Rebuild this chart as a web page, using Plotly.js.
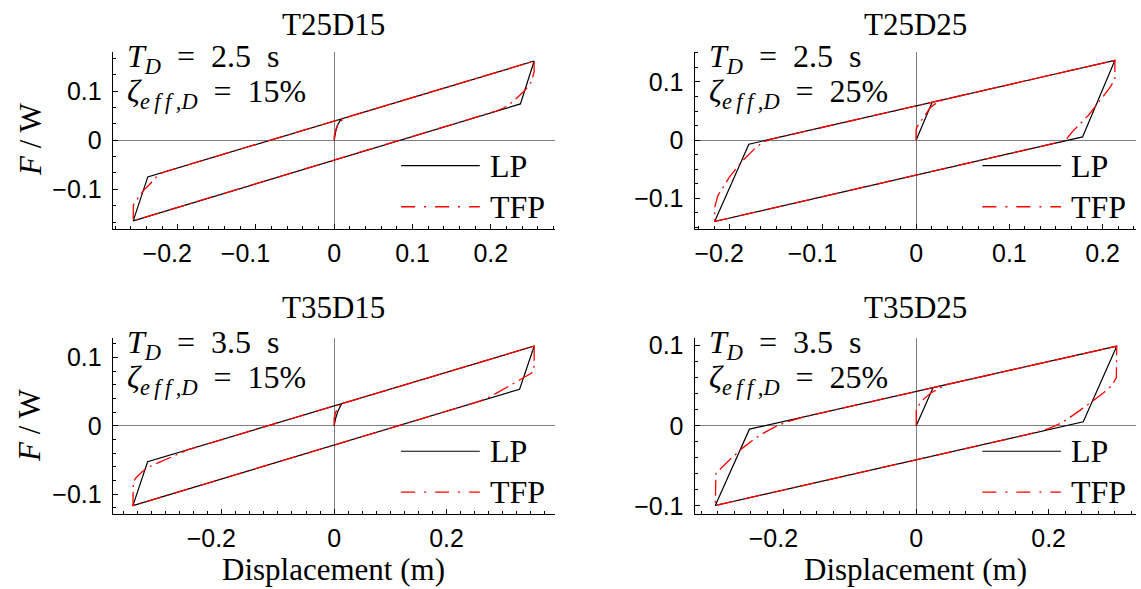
<!DOCTYPE html>
<html>
<head>
<meta charset="utf-8">
<script src="https://cdn.plot.ly/plotly-3.0.1.min.js"></script>
<style>html,body{margin:0;padding:0;background:#fff;}#chart{width:1141px;height:589px;}</style>
</head>
<body>
<div id="chart"></div>
<script>
// ---------- data ----------
const panelTitles = ['T25D15', 'T25D25', 'T35D15', 'T35D25'];
const periodLabels = ['2.5', '2.5', '3.5', '3.5'];
const dampingLabels = ['15%', '25%', '15%', '25%'];
const seriesNames = ['LP', 'TFP'];

// T25D15
const P1_LP_X = [0, 0.0015, 0.004, 0.0087, 0.2554, 0.2378, -0.2568, -0.2382, 0.2554];
const P1_LP_Y = [0, 0.015, 0.030, 0.0432, 0.161, 0.0738, -0.164, -0.0746, 0.161];
const P1_TFP_X = [0, 0, 0.002, 0.005, 0.010, 0.018, 0.2554, 0.2553, 0.2517, 0.2445, 0.236, 0.2262, 0.217, 0.207, -0.2568, -0.2566, -0.2497, -0.2433, -0.2369, -0.230, -0.2241, -0.215, 0.2554];
const P1_TFP_Y = [0, 0.008, 0.022, 0.033, 0.041, 0.0477, 0.161, 0.139, 0.1185, 0.103, 0.090, 0.076, 0.066, 0.0594, -0.164, -0.132, -0.115, -0.1016, -0.0915, -0.079, -0.0695, -0.0635, 0.161];

// T25D25
const P2_LP_X = [0, 0.0172, 0.2132, 0.1785, -0.2160, -0.1793, 0.2132];
const P2_LP_Y = [0, 0.0652, 0.1372, 0.0057, -0.1396, -0.0069, 0.1372];
const P2_TFP_X = [0, 0, 0.001, 0.010, 0.0155, 0.0225, 0.030, 0.2132, 0.2131, 0.207, 0.1987, 0.1851, 0.1675, 0.1617, 0.155, -0.2160, -0.2158, -0.2126, -0.2002, -0.187, -0.172, -0.1638, -0.156, 0.2132];
const P2_TFP_Y = [0, 0.018, 0.023, 0.043, 0.0565, 0.0646, 0.0699, 0.1372, 0.104, 0.0885, 0.0721, 0.0433, 0.0144, 0.0029, -0.0027, -0.1396, -0.115, -0.0952, -0.0635, -0.037, -0.0128, -0.003, 0.0016, 0.1372];

// T35D15
const P3_LP_X = [0, 0.0026, 0.0065, 0.0133, 0.356, 0.330, -0.358, -0.3319, 0.356];
const P3_LP_Y = [0, 0.0108, 0.021, 0.0324, 0.1168, 0.0536, -0.1168, -0.0526, 0.1168];
const P3_TFP_X = [0, 0, 0.002, 0.0046, 0.009, 0.015, 0.022, 0.356, 0.3558, 0.3555, 0.350, 0.3184, 0.299, 0.280, 0.265, 0.250, -0.358, -0.3578, -0.3573, -0.352, -0.3416, -0.3287, -0.2963, -0.275, -0.260, 0.356];
const P3_TFP_Y = [0, 0.010, 0.018, 0.0235, 0.029, 0.0326, 0.0345, 0.1168, 0.095, 0.0813, 0.0765, 0.0619, 0.052, 0.0436, 0.038, 0.0338, -0.1168, -0.095, -0.0813, -0.0755, -0.0671, -0.0598, -0.0476, -0.0395, -0.0349, 0.1168];

// T35D25
const P4_LP_X = [0, 0.0255, 0.3029, 0.2523, -0.3036, -0.2520, 0.3029];
const P4_LP_Y = [0, 0.0477, 0.0994, 0.0050, -0.0994, -0.0041, 0.0994];
const P4_TFP_X = [0, 0, 0.004, 0.012, 0.022, 0.034, 0.045, 0.3029, 0.3027, 0.3023, 0.295, 0.284, 0.262, 0.244, 0.229, 0.214, 0.200, 0.185, 0.170, -0.3036, -0.3034, -0.3026, -0.285, -0.263, -0.245, -0.230, -0.215, -0.200, -0.185, -0.170, 0.3029];
const P4_TFP_Y = [0, 0.020, 0.026, 0.034, 0.041, 0.0465, 0.0513, 0.0994, 0.075, 0.060, 0.050, 0.042, 0.028, 0.017, 0.0087, 0.0015, -0.0035, -0.0072, -0.0104, -0.0994, -0.075, -0.0592, -0.0447, -0.0281, -0.0165, -0.0087, -0.0020, 0.0035, 0.0075, 0.0112, 0.0994];

const xTickValsTop = [-0.2, -0.1, 0, 0.1, 0.2];
const xTickTextTop = ['\u22120.2', '\u22120.1', '0', '0.1', '0.2'];
const xTickValsBottom = [-0.2, 0, 0.2];
const xTickTextBottom = ['\u22120.2', '0', '0.2'];
const yTickVals = [-0.1, 0, 0.1];
const yTickText = ['\u22120.1', '0', '0.1'];

// ---------- styling ----------
const serif = 'Liberation Serif, Times New Roman, serif';
const sans = 'Liberation Sans, Arial, Helvetica, sans-serif';
const lpLine = {color: '#000000', width: 1.2};
const tfpLine = {color: '#ff0000', width: 1.3, dash: '16px,5px,2px,5px'};
// MATLAB-like placement: negative x labels sit slightly left of their tick
const pad = '\u00A0\u00A0\u00A0';
function padNeg(arr) { return arr.map(function (t) { return t.charAt(0) === '\u2212' ? t + pad : t; }); }

const lpX = [P1_LP_X, P2_LP_X, P3_LP_X, P4_LP_X];
const lpY = [P1_LP_Y, P2_LP_Y, P3_LP_Y, P4_LP_Y];
const tfpX = [P1_TFP_X, P2_TFP_X, P3_TFP_X, P4_TFP_X];
const tfpY = [P1_TFP_Y, P2_TFP_Y, P3_TFP_Y, P4_TFP_Y];

const traces = [];
for (let i = 0; i < 4; i++) {
  const xa = i === 0 ? 'x' : 'x' + (i + 1);
  const ya = i === 0 ? 'y' : 'y' + (i + 1);
  traces.push({x: lpX[i], y: lpY[i], xaxis: xa, yaxis: ya, type: 'scatter', mode: 'lines',
    name: seriesNames[0], line: lpLine, showlegend: false, hoverinfo: 'skip'});
  traces.push({x: tfpX[i], y: tfpY[i], xaxis: xa, yaxis: ya, type: 'scatter', mode: 'lines',
    name: seriesNames[1], line: tfpLine, showlegend: false, hoverinfo: 'skip'});
}

function axis(extra) {
  return Object.assign({
    showline: true, linecolor: '#000', linewidth: 1, mirror: false,
    ticks: 'inside', ticklen: 5, tickwidth: 1, tickcolor: '#000',
    showgrid: false, zeroline: true, zerolinecolor: '#808080', zerolinewidth: 1,
    tickfont: {family: sans, size: 25, color: '#000'},
    ticklabelstandoff: 2, tickmode: 'array', fixedrange: true
  }, extra);
}
function minor(dt) {
  return {ticks: 'inside', ticklen: 3, tickwidth: 1, tickcolor: '#000', dtick: dt, tick0: 0, showgrid: false};
}

const colL = [0.09877, 0.48642], colR = [0.60868, 0.99562];
const rowT = [0.6117, 0.91222], rowB = [0.12733, 0.42666];

const layout = {
  width: 1141, height: 589, margin: {l: 0, r: 0, t: 0, b: 0},
  paper_bgcolor: '#fff', plot_bgcolor: '#fff', showlegend: false,
  font: {family: sans, size: 24, color: '#000'},
  xaxis:  axis({domain: colL, anchor: 'y',  range: [-0.283, 0.282], tickvals: xTickValsTop, ticktext: padNeg(xTickTextTop), minor: minor(0.02)}),
  yaxis:  axis({domain: rowT, anchor: 'x',  range: [-0.18, 0.18], tickvals: yTickVals, ticktext: yTickText, ticklabelstandoff: 5, minor: minor(0.1 / 3)}),
  xaxis2: axis({domain: colR, anchor: 'y2', range: [-0.2376, 0.2358], tickvals: xTickValsTop, ticktext: padNeg(xTickTextTop), minor: minor(0.1 / 6)}),
  yaxis2: axis({domain: rowT, anchor: 'x2', range: [-0.152, 0.152], tickvals: yTickVals, ticktext: yTickText, ticklabelstandoff: 5, minor: minor(0.025)}),
  xaxis3: axis({domain: colL, anchor: 'y3', range: [-0.394, 0.393], tickvals: xTickValsBottom, ticktext: padNeg(xTickTextBottom), minor: minor(0.025)}),
  yaxis3: axis({domain: rowB, anchor: 'x3', range: [-0.129, 0.129], tickvals: yTickVals, ticktext: yTickText, ticklabelstandoff: 5, minor: minor(0.02)}),
  xaxis4: axis({domain: colR, anchor: 'y4', range: [-0.335, 0.332], tickvals: xTickValsBottom, ticktext: padNeg(xTickTextBottom), minor: minor(0.025)}),
  yaxis4: axis({domain: rowB, anchor: 'x4', range: [-0.11, 0.11], tickvals: yTickVals, ticktext: yTickText, ticklabelstandoff: 5, minor: minor(0.02)}),
  annotations: [],
  shapes: []
};

const nb = '\u00A0';
const th = '\u2009';
const titleY = [0.9592, 0.9592, 0.4771, 0.4771];
for (let i = 0; i < 4; i++) {
  const dom = (i % 2 === 0) ? colL : colR;
  const xr = (i === 0 ? 'x' : 'x' + (i + 1)) + ' domain';
  const yr = (i === 0 ? 'y' : 'y' + (i + 1)) + ' domain';
  // panel title
  layout.annotations.push({text: panelTitles[i], xref: 'paper', yref: 'paper',
    x: (dom[0] + dom[1]) / 2, y: titleY[i], xanchor: 'center', yanchor: 'middle',
    showarrow: false, font: {family: serif, size: 31, color: '#000'}});
  // parameter text
  layout.annotations.push({text: '<i>T</i><sub><i>D</i></sub>' + nb + ' = ' + nb + periodLabels[i] + nb + ' s',
    xref: xr, yref: yr, x: 0.028, y: 0.96, xanchor: 'left', yanchor: 'middle',
    showarrow: false, font: {family: serif, size: 32, color: '#000'}});
  layout.annotations.push({text: '<i>ζ</i><sub><i>e' + th + 'f' + th + 'f' + th + ',D</i></sub>' + nb + ' = ' + nb + dampingLabels[i],
    xref: xr, yref: yr, x: 0.028, y: 0.765, xanchor: 'left', yanchor: 'middle',
    showarrow: false, font: {family: serif, size: 32, color: '#000'}});
  // custom legend
  layout.shapes.push({type: 'line', xref: xr, yref: yr, x0: 0.652, x1: 0.83, y0: 0.356, y1: 0.356,
    line: {color: '#000', width: 1.2}});
  layout.shapes.push({type: 'line', xref: xr, yref: yr, x0: 0.652, x1: 0.83, y0: 0.124, y1: 0.124,
    line: {color: '#ff0000', width: 1.3, dash: '14px,9px,2px,9px'}});
  layout.annotations.push({text: seriesNames[0], xref: xr, yref: yr, x: 0.848, y: 0.356,
    xanchor: 'left', yanchor: 'middle', showarrow: false, font: {family: serif, size: 32, color: '#000'}});
  layout.annotations.push({text: seriesNames[1], xref: xr, yref: yr, x: 0.848, y: 0.124,
    xanchor: 'left', yanchor: 'middle', showarrow: false, font: {family: serif, size: 32, color: '#000'}});
}
// axis titles
const yTitleY = [0.7623, 0.2769];
for (let r = 0; r < 2; r++) {
  layout.annotations.push({text: '<i>F</i> / W', xref: 'paper', yref: 'paper', x: 30 / 1141, y: yTitleY[r],
    xanchor: 'center', yanchor: 'middle', textangle: -90, showarrow: false,
    font: {family: serif, size: 31, color: '#000'}});
}
[colL, colR].forEach(function (dom) {
  layout.annotations.push({text: 'Displacement (m)', xref: 'paper', yref: 'paper',
    x: (dom[0] + dom[1]) / 2, y: 0.0323, xanchor: 'center', yanchor: 'middle', showarrow: false,
    font: {family: serif, size: 31, color: '#000'}});
});

Plotly.newPlot('chart', traces, layout, {staticPlot: true, displayModeBar: false});
</script>
</body>
</html>
